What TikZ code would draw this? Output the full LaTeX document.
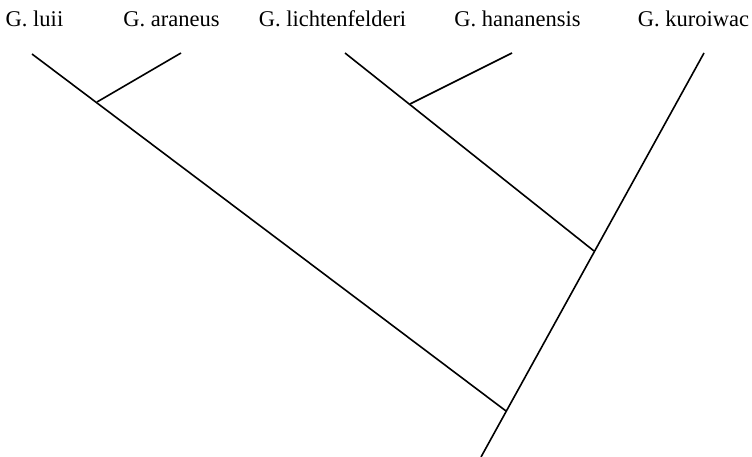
\documentclass[tikz,border=0pt]{standalone}
\usepackage{fontspec}
\setmainfont{Liberation Serif}
\begin{document}
\begin{tikzpicture}[x=1pt,y=-1pt,line width=1.6pt,
  taxon/.style={anchor=base,inner sep=0pt,font=\fontsize{22.5}{27}\selectfont}]
\useasboundingbox (0,0) rectangle (752,457);
\coordinate (luii) at (32,54);
\coordinate (araneus) at (181,53);
\coordinate (licht) at (345,53);
\coordinate (hanan) at (512,53);
\coordinate (kuro) at (704,53);
\coordinate (nA) at (97,102);
\coordinate (nB) at (410,104);
\coordinate (nC) at (594,251);
\coordinate (nD) at (506,411);
\coordinate (root) at (481,457);
\draw (luii)--(nD);
\draw (araneus)--(nA);
\draw (licht)--(nC);
\draw (hanan)--(nB);
\draw (kuro)--(root);
\node[taxon] (tluii) at (34.5,27) {G. luii};
\node[taxon] (taraneus) at (171.5,27) {G. araneus};
\node[taxon] (tlicht) at (332.5,27) {G. lichtenfelderi};
\node[taxon] (thanan) at (517.5,27) {G. hananensis};
\node[taxon,anchor=base west] (tkuro) at (637,27) {G. kuroiwac};
\end{tikzpicture}
\end{document}
